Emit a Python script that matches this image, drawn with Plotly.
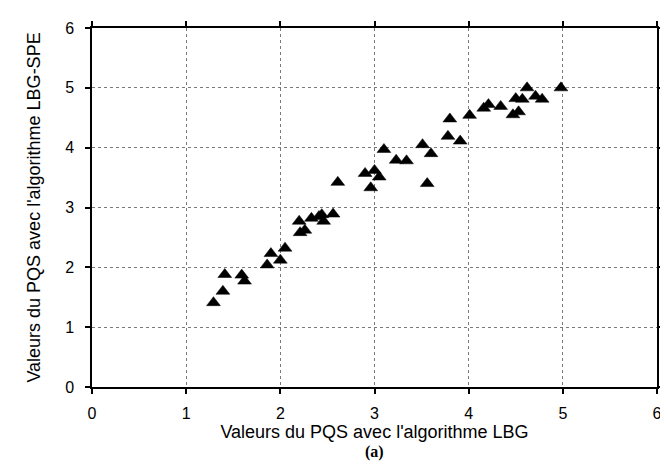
import plotly.graph_objects as go

# PQS values: LBG (x) vs LBG-SPE (y)
pqs_lbg = [1.29, 1.39, 1.41, 1.59, 1.62, 1.86, 1.90, 2.00, 2.05, 2.20, 2.21, 2.26,
           2.33, 2.41, 2.44, 2.46, 2.56, 2.61, 2.90, 2.96, 3.00, 3.05, 3.10, 3.23,
           3.34, 3.51, 3.56, 3.60, 3.78, 3.80, 3.91, 4.01, 4.16, 4.21, 4.34, 4.47,
           4.53, 4.50, 4.57, 4.62, 4.71, 4.78, 4.98]
pqs_spe = [1.41, 1.60, 1.88, 1.87, 1.77, 2.04, 2.23, 2.12, 2.32, 2.77, 2.58, 2.62,
           2.82, 2.85, 2.88, 2.77, 2.89, 3.42, 3.57, 3.33, 3.62, 3.51, 3.97, 3.79,
           3.78, 4.05, 3.40, 3.90, 4.19, 4.48, 4.11, 4.54, 4.66, 4.72, 4.69, 4.55,
           4.60, 4.82, 4.81, 5.00, 4.86, 4.81, 5.00]
tick_vals = [0, 1, 2, 3, 4, 5, 6]
x_title = "Valeurs du PQS avec l'algorithme LBG"
y_title = "Valeurs du PQS avec l'algorithme LBG-SPE"
caption = "(a)"

sans = "Liberation Sans, Arial, Helvetica, sans-serif"

fig = go.Figure()
fig.add_trace(go.Scatter(
    x=pqs_lbg, y=pqs_spe, mode="markers",
    marker=dict(symbol="triangle-up", size=12, color="black", line=dict(width=0.5, color="black")),
    showlegend=False))

axis_common = dict(
    range=[0, 6], tickvals=tick_vals, showline=True, linecolor="black", linewidth=1.5,
    mirror="allticks", ticks="outside", ticklen=5, tickwidth=1.5, tickcolor="black",
    showgrid=True, gridcolor="#7a7a7a", griddash="dot", gridwidth=1,
    zeroline=False, tickfont=dict(family=sans, size=16, color="black"),
    title_font=dict(family=sans, size=18, color="black"),
)

fig.update_xaxes(title_text=x_title, title_standoff=3, ticklabelstandoff=6, **axis_common)
fig.update_yaxes(title_text=y_title, title_standoff=20, ticklabelstandoff=8, **axis_common)

fig.add_annotation(text="<b>" + caption + "</b>", xref="paper", yref="paper", x=0.5, y=-0.15,
                   showarrow=False, xanchor="center", yanchor="top",
                   font=dict(family="Liberation Serif, Times New Roman, serif", size=16, color="black"))

fig.update_layout(
    width=668, height=468,
    margin=dict(l=84, r=13, t=14, b=89),
    paper_bgcolor="white", plot_bgcolor="white",
)

fig.write_html("out.html")
